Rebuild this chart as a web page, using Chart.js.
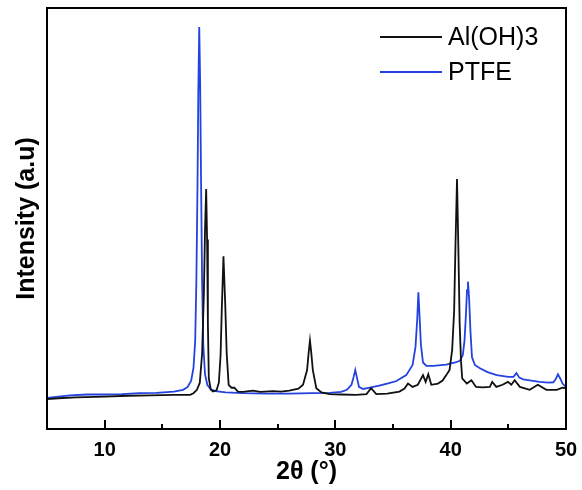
<!DOCTYPE html>
<html>
<head>
<meta charset="utf-8">
<script src="https://cdn.jsdelivr.net/npm/chart.js@4/dist/chart.umd.min.js"></script>
<style>
  html, body { margin: 0; padding: 0; background: #fff; }
  #wrap { width: 582px; height: 490px; }
</style>
</head>
<body>
<div id="wrap"><canvas id="xrd"></canvas></div>
<script>
// XRD patterns
const aohX = [5, 6, 7.5, 10, 12, 14, 16, 17.4, 17.7, 18.0, 18.25, 18.45, 18.6, 18.7, 18.8, 18.88, 18.95, 19.03,
  19.2, 19.4, 19.7, 19.9, 20.05, 20.15, 20.3, 20.45, 20.58, 20.75, 21.0, 21.25, 21.55, 22.0, 22.85, 23.5,
  24.6, 25.3, 26.0, 26.8, 27.2, 27.55, 27.7, 27.8, 27.9, 28.05, 28.35, 28.8, 29.5, 30.5, 31.8, 32.7, 33.1,
  33.55, 34.5, 35.56, 36.0, 36.3, 36.7, 37.15, 37.6, 37.83, 38.06, 38.32, 38.9, 39.3, 39.62, 39.9, 40.13,
  40.3, 40.42, 40.55, 40.66, 40.78, 40.9, 41.0, 41.4, 41.8, 42.2, 42.8, 43.4, 43.6, 43.96, 44.5, 44.96,
  45.26, 45.55, 46.0, 46.85, 47.56, 48.3, 49.2, 49.7, 50];
const aohY = [7.1, 7.3, 7.5, 7.7, 7.9, 8.0, 8.1, 8.1, 8.5, 9.3, 11, 18, 32, 47, 57, 45, 25, 12,
  9.4, 8.9, 9.2, 11, 17.5, 28, 41, 30, 18, 10.5, 9.8, 9.8, 8.9, 8.8, 9.1, 8.8,
  9.0, 8.9, 9.1, 9.6, 10.5, 14.0, 18.5, 21, 18.5, 14, 9.7, 8.7, 8.3, 8.2, 8.1, 8.3, 9.7,
  8.3, 8.4, 8.9, 9.6, 10.8, 10.0, 10.5, 12.8, 11.2, 13.0, 10.5, 10.8, 11.5, 12.8, 14.0, 18.8,
  28, 44, 59.4, 44, 25, 16, 12.0, 10.8, 11.6, 10.0, 9.9, 10.0, 11.2, 10.0, 10.5, 11.2,
  10.5, 11.6, 10.0, 9.3, 10.5, 9.3, 9.3, 9.8, 9.7];

const ptfeX = [5, 6, 7, 8.5, 10, 11.5, 13, 14.5, 16, 16.8, 17.2, 17.5, 17.7, 17.85, 17.95, 18.05, 18.12,
  18.2, 18.28, 18.36, 18.45, 18.55, 18.7, 18.9, 19.2, 19.6, 20.5, 22, 24, 26, 28, 29.5, 30.5, 31.0, 31.4,
  31.6, 31.73, 31.85, 32.05, 32.4, 33, 33.8, 34.5, 35.3, 36.15, 36.7, 36.95, 37.1, 37.2, 37.3, 37.42,
  37.6, 37.9, 38.5, 39.6, 40.4, 40.8, 41.05, 41.2, 41.32, 41.42, 41.5, 41.6, 41.72, 41.85, 42.1, 42.5,
  43.2, 44.0, 45.0, 45.45, 45.7, 45.95, 46.3, 47.0, 47.7, 48.5, 48.9, 49.1, 49.3, 49.5, 49.7, 50];
const ptfeY = [7.4, 7.7, 8.0, 8.2, 8.2, 8.3, 8.5, 8.6, 8.9, 9.3, 10.0, 11.5, 14.5, 21, 35, 58, 80,
  95.5, 82, 58, 35, 20, 13, 10.5, 9.4, 9.0, 8.7, 8.5, 8.4, 8.4, 8.5, 8.6, 8.8, 9.3, 10.5,
  12.5, 14.0, 12.5, 10.0, 9.5, 9.8, 10.3, 10.8, 11.4, 12.8, 15.2, 19.5, 26, 32.5, 27, 20,
  15.8, 15.0, 15.0, 15.3, 15.8, 16.2, 17.5, 21, 27, 33, 35, 31, 23, 17, 15.2, 14.5,
  13.5, 12.8, 12.4, 12.4, 13.3, 12.2, 11.8, 11.5, 11.2, 11.0, 11.1, 11.8, 13.0, 12.0, 10.8, 10.0];

const xMajorTicks = [10, 20, 30, 40, 50];
const xMinorTicks = [15, 25, 35, 45];
const seriesNames = ['Al(OH)3', 'PTFE'];
const seriesColors = ['#111111', '#2342e0'];

const FONT = '"Liberation Sans", Arial, sans-serif';
const toPoints = (xs, ys) => xs.map((x, i) => ({ x, y: ys[i] }));

/** Box frame, inward ticks and the legend in the top-right corner */
const framePlugin = {
  id: 'frame',
  afterDatasetsDraw(chart) {
    const { ctx, chartArea: a } = chart;
    const x = chart.scales.x;
    ctx.save();
    ctx.strokeStyle = '#000';
    ctx.lineWidth = 2;
    ctx.strokeRect(a.left, a.top, a.right - a.left, a.bottom - a.top);

    ctx.beginPath();
    xMajorTicks.forEach((v) => {
      const px = Math.round(x.getPixelForValue(v));
      ctx.moveTo(px, a.bottom);
      ctx.lineTo(px, a.bottom - 9);
    });
    xMinorTicks.forEach((v) => {
      const px = Math.round(x.getPixelForValue(v));
      ctx.moveTo(px, a.bottom);
      ctx.lineTo(px, a.bottom - 5);
    });
    ctx.stroke();

    // legend
    ctx.font = `25px ${FONT}`;
    ctx.textBaseline = 'middle';
    chart.data.datasets.forEach((ds, i) => {
      const y = 37 + i * 35;
      ctx.strokeStyle = ds.borderColor;
      ctx.lineWidth = 2;
      ctx.beginPath();
      ctx.moveTo(380, y);
      ctx.lineTo(442, y);
      ctx.stroke();
      ctx.fillStyle = '#000';
      ctx.fillText(ds.label, 448, y + 1);
    });
    ctx.restore();
  },
};

new Chart(document.getElementById('xrd'), {
  type: 'line',
  data: {
    datasets: [
      {
        label: seriesNames[0],
        data: toPoints(aohX, aohY),
        borderColor: seriesColors[0],
        borderWidth: 1.8,
        pointRadius: 0,
        tension: 0,
      },
      {
        label: seriesNames[1],
        data: toPoints(ptfeX, ptfeY),
        borderColor: seriesColors[1],
        borderWidth: 1.8,
        pointRadius: 0,
        tension: 0,
      },
    ],
  },
  options: {
    responsive: true,
    maintainAspectRatio: false,
    animation: false,
    layout: { padding: { top: 8, right: 16, left: 0, bottom: 0 } },
    plugins: {
      legend: { display: false },
      tooltip: { enabled: false },
    },
    scales: {
      x: {
        type: 'linear',
        min: 5,
        max: 50,
        grid: { display: false },
        border: { display: false },
        afterBuildTicks: (scale) => { scale.ticks = xMajorTicks.map((v) => ({ value: v })); },
        afterFit: (scale) => {
          scale.height = 61;
          scale.paddingLeft = 0;
          scale.paddingRight = 0;
        },
        ticks: {
          color: '#000',
          padding: 1,
          font: { family: FONT, size: 20, weight: 'bold' },
        },
        title: {
          display: true,
          text: '2θ (°)',
          color: '#000',
          padding: { top: 0, bottom: 3 },
          font: { family: FONT, size: 25, weight: 'bold' },
        },
      },
      y: {
        min: 0,
        max: 100,
        grid: { display: false },
        border: { display: false },
        ticks: { display: false },
        afterFit: (scale) => { scale.width = 47; },
        title: {
          display: true,
          text: 'Intensity (a.u)',
          color: '#000',
          padding: { top: 12, bottom: 0 },
          font: { family: FONT, size: 25, weight: 'bold' },
        },
      },
    },
  },
  plugins: [framePlugin],
});
</script>
</body>
</html>
